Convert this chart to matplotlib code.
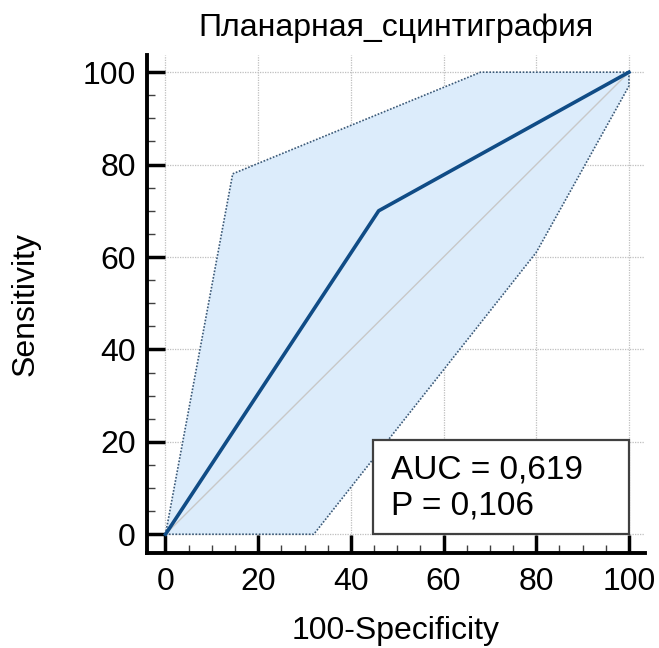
import matplotlib
matplotlib.use("Agg")
import matplotlib.pyplot as plt
from matplotlib.patches import Rectangle
from matplotlib.ticker import MultipleLocator

plt.rcParams['font.family'] = ['Liberation Sans', 'DejaVu Sans']

# ROC curve and confidence bounds (100-Specificity, Sensitivity)
roc_x = [0, 46, 100]
roc_y = [0, 70, 100]
upper_x = [0, 14.5, 68, 100]
upper_y = [0, 78, 100, 100]
lower_x = [0, 32, 80, 100, 100]
lower_y = [0, 0, 61, 97, 100]
ticks = [0, 20, 40, 60, 80, 100]
auc_text = "AUC = 0,619\nP = 0,106"

fig = plt.figure(figsize=(6.59, 6.48), dpi=100)
ax = fig.add_axes([0.223, 0.147, 0.756, 0.768])

# confidence band
poly_x = upper_x + lower_x[::-1]
poly_y = upper_y + lower_y[::-1]
ax.fill(poly_x, poly_y, color='#dcecfb', zorder=1, linewidth=0)
ax.plot(upper_x, upper_y, color='#3c5a78', linestyle=(0, (1, 1)), linewidth=1.2, zorder=3)
ax.plot(lower_x, lower_y, color='#3c5a78', linestyle=(0, (1, 1)), linewidth=1.2, zorder=3)

# reference diagonal
ax.plot([0, 100], [0, 100], color='#c8c8c8', linewidth=1, zorder=2)

# ROC
ax.plot(roc_x, roc_y, color='#104c86', linewidth=2.6, zorder=4)

ax.set_xlim(-4, 103.5)
ax.set_ylim(-4, 103.7)
ax.set_xticks(ticks)
ax.set_yticks(ticks)
ax.xaxis.set_minor_locator(MultipleLocator(5))
ax.yaxis.set_minor_locator(MultipleLocator(5))
ax.grid(True, which='major', color='#bfbfbf', linestyle=(0, (1, 1)), linewidth=0.9, zorder=0)
ax.set_axisbelow(True)

for s in ['top', 'right']:
    ax.spines[s].set_visible(False)
for s in ['left', 'bottom']:
    ax.spines[s].set_linewidth(2.8)
ax.tick_params(which='major', direction='in', length=13, width=2.5, labelsize=23)
ax.tick_params(axis='x', which='major', pad=10)
ax.tick_params(axis='y', which='major', pad=8)
ax.tick_params(which='minor', direction='in', length=6, width=1, color='#404040')

ax.set_title("Планарная_сцинтиграфия", fontsize=23, pad=14)
ax.set_xlabel("100-Specificity", fontsize=23, labelpad=14)
ax.set_ylabel("Sensitivity", fontsize=23, labelpad=30)

# AUC box
ax.add_patch(Rectangle((44.7, 0), 55.3, 20.5, facecolor='white', edgecolor='#404040',
                       linewidth=1.6, zorder=5))
ax.text(48.6, 10.0, auc_text, fontsize=24, va='center', ha='left', zorder=6,
        linespacing=1.2)

fig.savefig("out.png", dpi=100)
